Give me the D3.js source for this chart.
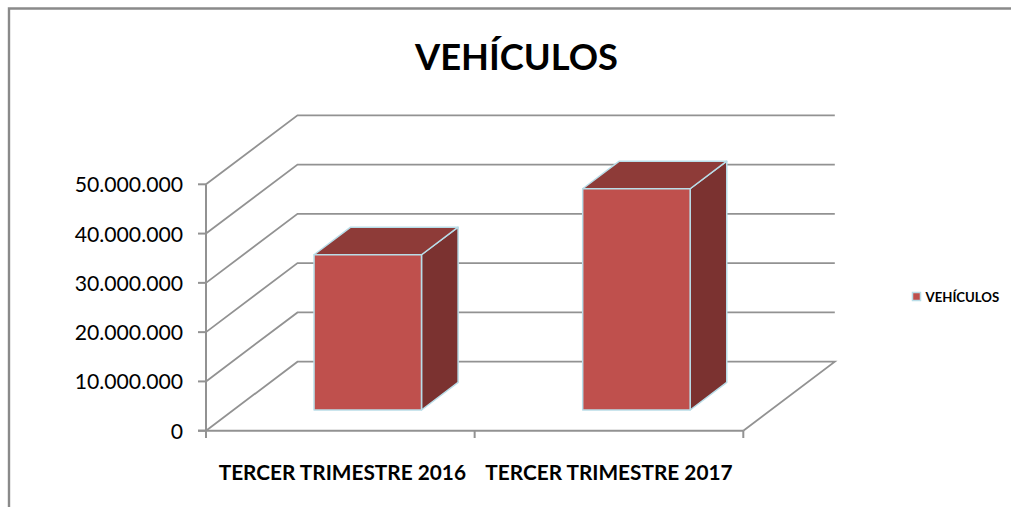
<!DOCTYPE html>
<html><head><meta charset="utf-8">
<script src="https://cdn.jsdelivr.net/npm/d3@7"></script>
<style>html,body{margin:0;padding:0;background:#fff}svg{display:block}text{font-family:Lato,"Open Sans",sans-serif;fill:#000}</style>
</head><body><svg id="c" width="1011" height="507"></svg>
<script>
const titleText = "VEHÍCULOS";
const seriesName = "VEHÍCULOS";
const categories = ["TERCER TRIMESTRE 2016", "TERCER TRIMESTRE 2017"];
const values = [31500000, 44900000];
const yTicks = [0, 10000000, 20000000, 30000000, 40000000, 50000000];

const svg = d3.select("#c");
const x = d3.scaleBand().domain(categories).range([206, 743.3]);
const y = d3.scaleLinear().domain([0, 50000000]).range([430.7, 184.3]);
const depthX = 91.5, depthY = -69;
const P = (px, v, z) => [px + z * depthX, y(v) + z * depthY];
const poly = pts => pts.map(p => p.join(",")).join(" ");
const fmt = d3.formatLocale({decimal: ",", thousands: ".", grouping: [3], currency: ["", ""]}).format(",d");
const grid = "#929292";

// chart frame (open at right and bottom)
svg.append("path").attr("d", "M9,507V8.5H1011").attr("fill", "none").attr("stroke", "#8a8a8a").attr("stroke-width", 2.4);

// walls: gridlines
const gridG = svg.append("g").attr("fill", "none").attr("stroke", grid).attr("stroke-width", 1.8);
yTicks.forEach(t => {
  const a = P(206, t, 0), b = P(206, t, 1), c = P(743.3, t, 1);
  gridG.append("polyline").attr("points", poly(t === 0 ? [a, b, c, P(743.3, t, 0)] : [a, b, c]));
});

// axes
const axG = svg.append("g").attr("stroke", grid).attr("stroke-width", 2).attr("fill", "none");
axG.append("line").attr("x1", 206).attr("x2", 206).attr("y1", y(50000000)).attr("y2", 438);
axG.append("line").attr("x1", 198).attr("x2", 743.3).attr("y1", y(0)).attr("y2", y(0));
yTicks.forEach(t => axG.append("line").attr("x1", 198).attr("x2", 206).attr("y1", y(t)).attr("y2", y(t)));
[206, ...categories.map(c => x(c) + x.bandwidth())].forEach(px =>
  axG.append("line").attr("x1", px).attr("x2", px).attr("y1", y(0)).attr("y2", 438));

// y tick labels
svg.append("g").selectAll("text").data(yTicks).join("text")
  .attr("x", 183).attr("y", d => y(d) + 8).attr("text-anchor", "end")
  .attr("font-size", 21.2).text(d => fmt(d));

// bars
const zFront = 0.3, zBack = 0.7, barShare = 0.4;
const bars = svg.append("g").selectAll("g").data(categories).join("g")
  .attr("stroke", "#b9dde8").attr("stroke-width", 1.5).attr("stroke-linejoin", "round");
bars.each(function(c, i) {
  const g = d3.select(this), bw = x.bandwidth() * barShare;
  const x0 = x(c) + (x.bandwidth() - bw) / 2, x1 = x0 + bw, v = values[i];
  g.append("polygon").attr("fill", "#7b3230")
    .attr("points", poly([P(x1, 0, zFront), P(x1, 0, zBack), P(x1, v, zBack), P(x1, v, zFront)]));
  g.append("polygon").attr("fill", "#8e3b38")
    .attr("points", poly([P(x0, v, zFront), P(x0, v, zBack), P(x1, v, zBack), P(x1, v, zFront)]));
  g.append("polygon").attr("fill", "#bf504d")
    .attr("points", poly([P(x0, 0, zFront), P(x1, 0, zFront), P(x1, v, zFront), P(x0, v, zFront)]));
});

// category labels
svg.append("g").selectAll("text").data(categories).join("text")
  .attr("x", (d, i) => x(d) + x.bandwidth() / 2 + (i ? 0 : 2)).attr("y", 480).attr("text-anchor", "middle")
  .attr("font-size", 20.8).attr("font-weight", 700).text(d => d);

// title
svg.append("text").attr("x", 516.5).attr("y", 70).attr("text-anchor", "middle")
  .attr("font-size", 36.3).attr("font-weight", 700).text(titleText);

// legend
svg.append("rect").attr("x", 912.5).attr("y", 292.5).attr("width", 8).attr("height", 8)
  .attr("fill", "#bf504d").attr("stroke", "#b9dde8").attr("stroke-width", 1.5);
svg.append("text").attr("x", 925.5).attr("y", 301.5).attr("font-size", 13.2).attr("font-weight", 700).text(seriesName);
</script></body></html>
